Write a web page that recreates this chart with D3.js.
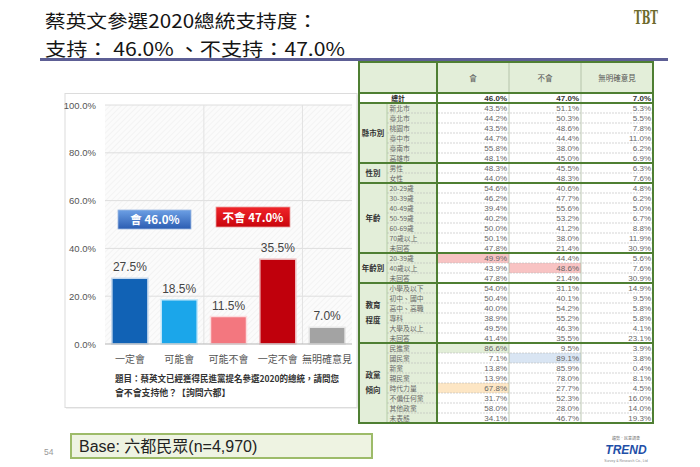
<!DOCTYPE html>
<html><head><meta charset="utf-8">
<script src="https://cdn.jsdelivr.net/npm/d3@7"></script>
<style>
html,body{margin:0;padding:0;background:#fff;}
svg{display:block;}
</style></head>
<body>
<svg id="c" width="700" height="467" font-family="Noto Sans CJK TC, Noto Sans, sans-serif"></svg>
<script>
// ---------------- data ----------------
const barCategories = ["一定會","可能會","可能不會","一定不會","無明確意見"];
const barValues = [27.5, 18.5, 11.5, 35.5, 7.0];
const barColors = ["#1162b5","#1ba6ea","#f3777f","#c0000c","#a3a3a3"];
const yTicks = [0,20,40,60,80,100];
const supportTotal = 46.0;
const opposeTotal = 47.0;

const tableColumns = ["會","不會","無明確意見"];
const totalRow = [46.0, 47.0, 7.0];
const groupNames = ["縣市別","性別","年齡","年齡別","教育程度","政黨傾向"];
const groupLabelLines = [["縣市別"],["性別"],["年齡"],["年齡別"],["教育","程度"],["政黨","傾向"]];
const cityLabels = ["新北市","臺北市","桃園市","臺中市","臺南市","高雄市"];
const cityValues = [[43.5,51.1,5.3],[44.2,50.3,5.5],[43.5,48.6,7.8],[44.7,44.4,11.0],[55.8,38.0,6.2],[48.1,45.0,6.9]];
const genderLabels = ["男性","女性"];
const genderValues = [[48.3,45.5,6.3],[44.0,48.3,7.6]];
const ageLabels = ["20-29歲","30-39歲","40-49歲","50-59歲","60-69歲","70歲以上","未回答"];
const ageValues = [[54.6,40.6,4.8],[46.2,47.7,6.2],[39.4,55.6,5.0],[40.2,53.2,6.7],[50.0,41.2,8.8],[50.1,38.0,11.9],[47.8,21.4,30.9]];
const ageGroupLabels = ["20-39歲","40歲以上","未回答"];
const ageGroupValues = [[49.9,44.4,5.6],[43.9,48.6,7.6],[47.8,21.4,30.9]];
const eduLabels = ["小學及以下","初中、國中","高中、高職","專科","大學及以上","未回答"];
const eduValues = [[54.0,31.1,14.9],[50.4,40.1,9.5],[40.0,54.2,5.8],[38.9,55.2,5.8],[49.5,46.3,4.1],[41.4,35.5,23.1]];
const partyLabels = ["民進黨","國民黨","新黨","親民黨","時代力量","不偏任何黨","其他政黨","未表態"];
const partyValues = [[86.6,9.5,3.9],[7.1,89.1,3.8],[13.8,85.9,0.4],[13.9,78.0,8.1],[67.8,27.7,4.5],[31.7,52.3,16.0],[58.0,28.0,14.0],[34.1,46.7,19.3]];
// highlighted cells: [group, sub label, column, colour]
const highlights = [["年齡別","20-39歲","會","#f8c3c3"],["年齡別","40歲以上","不會","#f8c3c3"],["政黨傾向","民進黨","會","#e2eed8"],["政黨傾向","國民黨","不會","#d9e5f3"],["政黨傾向","時代力量","會","#fde6c4"]];

// ---------------- drawing ----------------
const svg = d3.select("#c");
const defs = svg.append("defs");
const NUM = "Liberation Sans, Arial, sans-serif";

// Title
svg.append("text").attr("x",45).attr("y",28).attr("font-size",18.5).attr("fill","#151515")
  .attr("textLength",273).attr("lengthAdjust","spacingAndGlyphs").text("蔡英文參選2020總統支持度：");
svg.append("text").attr("x",45).attr("y",55.5).attr("font-size",18.5).attr("fill","#151515")
  .attr("textLength",300).attr("lengthAdjust","spacingAndGlyphs")
  .text(`支持： ${supportTotal.toFixed(1)}% 、不支持：${opposeTotal.toFixed(1)}%`);
svg.append("rect").attr("x",40).attr("y",58).attr("width",628).attr("height",3).attr("fill","#5d5f95");
// top-right logo
svg.append("text").attr("x",646).attr("y",24).attr("text-anchor","middle").attr("font-size",18)
  .attr("font-family","DejaVu Serif, serif").attr("font-weight","bold").attr("fill","#6d6a2c")
  .attr("textLength",24).attr("lengthAdjust","spacingAndGlyphs").text("TBT");

// Chart panel
svg.append("rect").attr("x",66).attr("y",95).attr("width",292).attr("height",314)
  .attr("fill","#f0f0f0");
svg.append("rect").attr("x",65).attr("y",93.5).attr("width",292).attr("height",314)
  .attr("fill","#fff").attr("stroke","#dcdcdc").attr("stroke-width",1);

const plot = {x0:105, x1:352, y0:105, y1:344};
const pat = defs.append("pattern").attr("id","hatch").attr("patternUnits","userSpaceOnUse")
  .attr("width",4).attr("height",4).attr("patternTransform","rotate(45)");
pat.append("rect").attr("width",4).attr("height",4).attr("fill","#fbfbfb");
pat.append("line").attr("x1",0).attr("y1",0).attr("x2",0).attr("y2",4).attr("stroke","#eeeeee").attr("stroke-width",1.2);
svg.append("rect").attr("x",plot.x0).attr("y",plot.y0).attr("width",plot.x1-plot.x0).attr("height",plot.y1-plot.y0)
  .attr("fill","url(#hatch)");

const x = d3.scaleBand().domain(barCategories).range([plot.x0,plot.x1]).paddingInner(0.27).paddingOuter(0.14);
const y = d3.scaleLinear().domain([0,100]).range([plot.y1,plot.y0]);

// grid
svg.append("g").selectAll("line").data(yTicks.filter(d=>d>0)).join("line")
  .attr("x1",plot.x0).attr("x2",plot.x1).attr("y1",d=>y(d)).attr("y2",d=>y(d))
  .attr("stroke","#dedede").attr("stroke-width",1);
const vgrid = [barCategories[2], barCategories[4]];
svg.append("g").selectAll("line").data(vgrid).join("line")
  .attr("x1",d=>x(d)-x.step()*x.paddingInner()/2).attr("x2",d=>x(d)-x.step()*x.paddingInner()/2)
  .attr("y1",plot.y0).attr("y2",plot.y1).attr("stroke","#e2e2e2").attr("stroke-width",1);

// y axis
const yAxis = svg.append("g").attr("transform",`translate(${plot.x0},0)`)
  .call(d3.axisLeft(y).tickValues(yTicks).tickSize(0).tickPadding(9).tickFormat(d=>d.toFixed(1)+"%"));
yAxis.select(".domain").remove();
yAxis.selectAll("text").attr("font-size",9.5).attr("fill","#555").attr("font-family",NUM);

// bars
svg.append("g").selectAll("rect").data(barValues).join("rect")
  .attr("x",(d,i)=>x(barCategories[i])).attr("width",x.bandwidth())
  .attr("y",d=>y(d)).attr("height",d=>y(0)-y(d))
  .attr("fill",(d,i)=>barColors[i])
  .attr("stroke",(d,i)=>d3.interpolateRgb(barColors[i],"#fff")(0.75)).attr("stroke-width",1.5);
// baseline
svg.append("line").attr("x1",plot.x0).attr("x2",plot.x1).attr("y1",y(0)).attr("y2",y(0))
  .attr("stroke","#b5b5b5").attr("stroke-width",1.2);
// value labels
svg.append("g").selectAll("text").data(barValues).join("text")
  .attr("x",(d,i)=>x(barCategories[i])+x.bandwidth()/2).attr("y",d=>y(d)-7)
  .attr("text-anchor","middle").attr("font-size",12).attr("fill","#444").attr("font-family",NUM)
  .text(d=>d.toFixed(1)+"%");
// x labels
svg.append("g").selectAll("text").data(barCategories).join("text")
  .attr("x",d=>x(d)+x.bandwidth()/2).attr("y",363).attr("text-anchor","middle")
  .attr("font-size",10).attr("fill","#555").text(d=>d);

// legend boxes
const gBlue = defs.append("linearGradient").attr("id","gb").attr("x1",0).attr("x2",0).attr("y1",0).attr("y2",1);
gBlue.append("stop").attr("offset","0%").attr("stop-color","#6c9fe4");
gBlue.append("stop").attr("offset","100%").attr("stop-color","#2b5db2");
const gRed = defs.append("linearGradient").attr("id","gr").attr("x1",0).attr("x2",0).attr("y1",0).attr("y2",1);
gRed.append("stop").attr("offset","0%").attr("stop-color","#f0252a");
gRed.append("stop").attr("offset","100%").attr("stop-color","#c9040c");
svg.append("rect").attr("x",118).attr("y",210).attr("width",73).attr("height",19).attr("fill","url(#gb)").attr("stroke","#9db8e0").attr("stroke-width",0.8);
svg.append("text").attr("x",155).attr("y",224).attr("text-anchor","middle").attr("font-size",11.5).attr("font-weight","bold").attr("fill","#fff")
  .text(`${tableColumns[0]} ${supportTotal.toFixed(1)}%`);
svg.append("rect").attr("x",216).attr("y",207).attr("width",74).attr("height",20).attr("fill","url(#gr)").attr("stroke","#e8a0a0").attr("stroke-width",0.8);
svg.append("text").attr("x",253).attr("y",221.5).attr("text-anchor","middle").attr("font-size",11.5).attr("font-weight","bold").attr("fill","#fff")
  .text(`${tableColumns[1]} ${opposeTotal.toFixed(1)}%`);

// question text
svg.append("text").attr("x",115).attr("y",382).attr("font-size",8.9).attr("font-weight","bold").attr("fill","#333")
  .attr("textLength",224).attr("lengthAdjust","spacingAndGlyphs").text("題目：蔡英文已經獲得民進黨提名參選2020的總統，請問您");
svg.append("text").attr("x",115).attr("y",396).attr("font-size",8.9).attr("font-weight","bold").attr("fill","#333")
  .text("會不會支持他？【詢問六都】");

// ---------------- table ----------------
const T = {x0:359, xs:387, xd:437, x1:653, y0:62, yh:93, y1:423};
const subLabels = [cityLabels,genderLabels,ageLabels,ageGroupLabels,eduLabels,partyLabels];
const subValues = [cityValues,genderValues,ageValues,ageGroupValues,eduValues,partyValues];
const rows = [];
groupNames.forEach((g,gi)=>subLabels[gi].forEach((s,si)=>rows.push({group:g,gi,label:s,values:subValues[gi][si],first:si===0})));
const nRows = rows.length + 1;
const ry = d3.scaleLinear().domain([0,nRows]).range([T.yh,T.y1]);
const cx = d3.scaleBand().domain(tableColumns).range([T.xd,T.x1]);
const rh = ry(1)-ry(0);
const green = "#e3eed9", thick = "#4f7f33";
const tg = svg.append("g");

// fills
tg.append("rect").attr("x",T.x0).attr("y",T.y0).attr("width",T.x1-T.x0).attr("height",T.yh-T.y0).attr("fill",green);
tg.append("rect").attr("x",T.x0).attr("y",ry(0)).attr("width",T.x1-T.x0).attr("height",rh).attr("fill","#fff");
tg.append("rect").attr("x",T.x0).attr("y",ry(1)).attr("width",T.xd-T.x0).attr("height",ry(nRows)-ry(1)).attr("fill",green);
tg.append("rect").attr("x",T.xd).attr("y",ry(1)).attr("width",T.x1-T.xd).attr("height",ry(nRows)-ry(1)).attr("fill","#fff");
tg.selectAll("rect.hl").data(highlights).join("rect").attr("class","hl")
  .attr("x",d=>cx(d[2])).attr("width",cx.bandwidth())
  .attr("y",d=>ry(1+rows.findIndex(r=>r.group===d[0]&&r.label===d[1]))).attr("height",rh)
  .attr("fill",d=>d[3]);

// thin row lines
tg.selectAll("line.row").data(rows.filter(r=>!r.first)).join("line").attr("class","row")
  .attr("x1",T.xs).attr("x2",T.x1)
  .attr("y1",d=>ry(1+rows.indexOf(d))).attr("y2",d=>ry(1+rows.indexOf(d)))
  .attr("stroke","#b9b9b9").attr("stroke-width",0.6).attr("stroke-dasharray","2,1");
// thin vertical lines
tg.selectAll("line.col").data(tableColumns.slice(1)).join("line").attr("class","col")
  .attr("x1",d=>cx(d)).attr("x2",d=>cx(d)).attr("y1",T.y0).attr("y2",T.y1)
  .attr("stroke","#a9b9a0").attr("stroke-width",0.8);
tg.append("line").attr("x1",T.xs).attr("x2",T.xs).attr("y1",ry(1)).attr("y2",T.y1).attr("stroke","#a9c49a").attr("stroke-width",0.8);

// thick borders
const groupStarts = groupNames.map((g,gi)=>1+rows.findIndex(r=>r.gi===gi));
[0,1].concat(groupStarts.slice(1)).forEach(i=>{
  tg.append("line").attr("x1",T.x0).attr("x2",T.x1).attr("y1",ry(i)).attr("y2",ry(i)).attr("stroke",thick).attr("stroke-width",2);
});
tg.append("line").attr("x1",T.xd).attr("x2",T.xd).attr("y1",T.y0).attr("y2",T.y1).attr("stroke",thick).attr("stroke-width",2);
tg.append("rect").attr("x",T.x0).attr("y",T.y0).attr("width",T.x1-T.x0).attr("height",T.y1-T.y0)
  .attr("fill","none").attr("stroke",thick).attr("stroke-width",2);

// header text
tg.selectAll("text.hd").data(tableColumns).join("text").attr("class","hd")
  .attr("x",d=>cx(d)+cx.bandwidth()/2).attr("y",(T.y0+T.yh)/2+3).attr("text-anchor","middle")
  .attr("font-size",7.5).attr("fill","#555").text(d=>d);
// total row
tg.append("text").attr("x",(T.x0+T.xd)/2).attr("y",ry(0)+rh/2+2.5).attr("text-anchor","middle")
  .attr("font-size",6.8).attr("font-weight","bold").attr("fill","#222").text("總計");
tg.selectAll("text.tot").data(totalRow).join("text").attr("class","tot")
  .attr("x",(d,i)=>cx(tableColumns[i])+cx.bandwidth()-2).attr("y",ry(0)+rh/2+3).attr("text-anchor","end")
  .attr("font-size",8).attr("font-weight","bold").attr("fill","#333").attr("font-family",NUM)
  .text(d=>d.toFixed(1)+"%");
// group labels (multi-line labels as one text with tspans)
groupNames.forEach((g,gi)=>{
  const n = subLabels[gi].length;
  const yc = (ry(groupStarts[gi])+ry(groupStarts[gi]+n))/2;
  const lines = groupLabelLines[gi];
  const cxl = (T.x0+T.xs)/2;
  const t = tg.append("text").attr("x",cxl).attr("y",yc+2.5-(lines.length-1)/2*15)
      .attr("font-size",7.5).attr("text-anchor","middle").attr("font-weight","bold").attr("fill","#333");
  lines.forEach((l,li)=>{
    t.append("tspan").attr("x",cxl).attr("dy",li===0?0:15).text(l);
  });
});
// sub labels & values
tg.selectAll("text.sub").data(rows).join("text").attr("class","sub")
  .attr("x",T.xs+2.5).attr("y",(d,i)=>ry(1+i)+rh/2+2.5).attr("font-size",6.8).attr("fill","#666").text(d=>d.label);
rows.forEach((r,i)=>{
  tg.selectAll(null).data(r.values).join("text")
    .attr("x",(d,j)=>cx(tableColumns[j])+cx.bandwidth()-2).attr("y",ry(1+i)+rh/2+3).attr("text-anchor","end")
    .attr("font-size",8).attr("fill","#666").attr("font-family",NUM)
    .text(d=>d.toFixed(1)+"%");
});

// ---------------- footer ----------------
svg.append("text").attr("x",44).attr("y",455).attr("font-size",8.5).attr("fill","#999").attr("font-family",NUM).text("54");
svg.append("rect").attr("x",71).attr("y",434).attr("width",301).attr("height",24).attr("fill","#eef3e2").attr("stroke","#9dbb69").attr("stroke-width",2);
svg.append("text").attr("x",79).attr("y",452).attr("font-size",16).attr("fill","#222")
  .attr("font-family","Liberation Sans, Noto Sans CJK TC, sans-serif").text("Base: 六都民眾(n=4,970)");
svg.append("text").attr("x",640).attr("y",440).attr("text-anchor","end").attr("font-size",4).attr("fill","#777").text("趨勢．民意調查");
svg.append("text").attr("x",626).attr("y",454).attr("text-anchor","middle").attr("font-size",12).attr("font-style","italic")
  .attr("font-weight","bold").attr("fill","#1f4fa8").attr("font-family",NUM).text("TREND");
svg.append("text").attr("x",626).attr("y",462).attr("text-anchor","middle").attr("font-size",3.5).attr("fill","#888").attr("font-family",NUM).text("Survey & Research Co., Ltd");
</script>
</body></html>
